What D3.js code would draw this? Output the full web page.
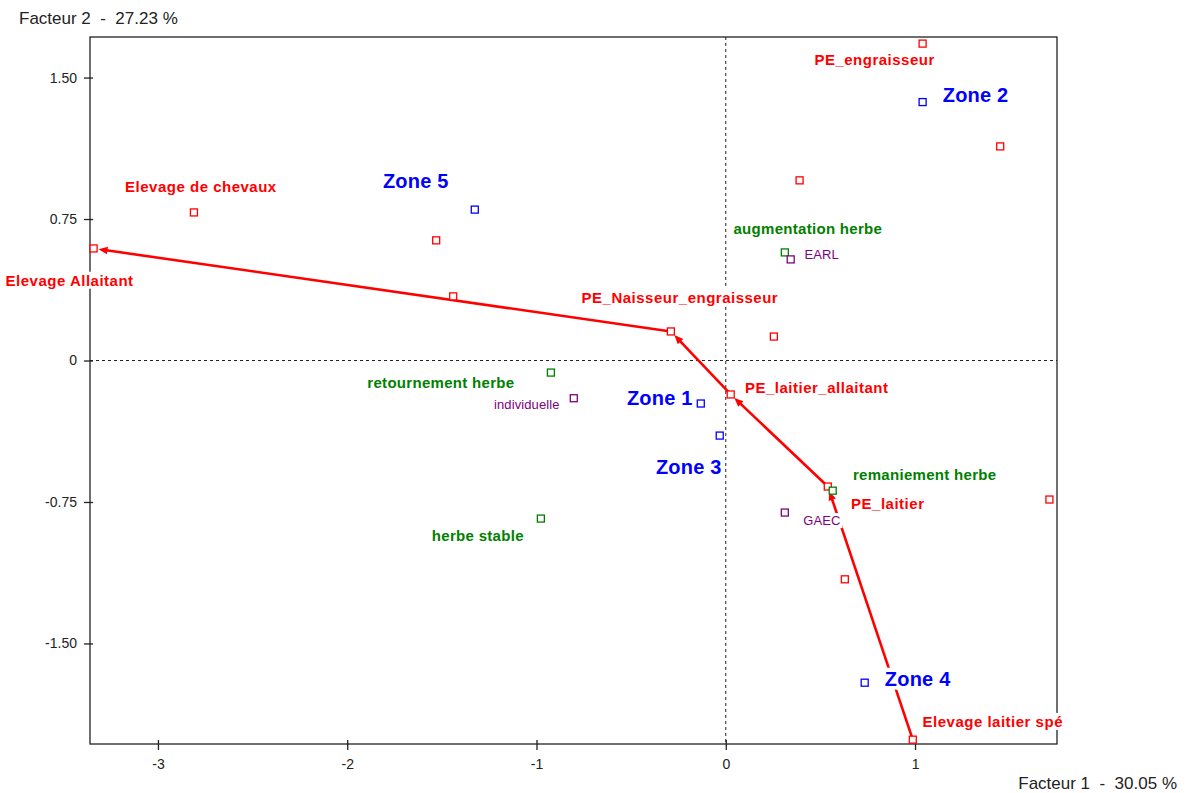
<!DOCTYPE html>
<html><head><meta charset="utf-8">
<script src="https://cdn.jsdelivr.net/npm/d3@7"></script>
<style>
html,body{margin:0;padding:0;background:#fff;}
svg{display:block;font-family:"Liberation Sans",Arial,sans-serif;}
</style></head>
<body><svg id="c" width="1187" height="793"></svg>
<script>
// ---- data ----
const typeNames = ["PE_engraisseur","","","Elevage de chevaux","Elevage Allaitant","","","PE_Naisseur_engraisseur","","PE_laitier_allaitant","PE_laitier","","","Elevage laitier spé"];
const typeF1 = [1.04, 1.45, 0.39, -2.81, -3.34, -1.53, -1.44, -0.29, 0.254, 0.026, 0.539, 1.71, 0.629, 0.988];
const typeF2 = [1.68, 1.135, 0.955, 0.785, 0.594, 0.637, 0.34, 0.154, 0.127, -0.18, -0.668, -0.737, -1.16, -2.01];

const zoneNames = ["Zone 2","Zone 5","Zone 1","Zone 3","Zone 4"];
const zoneF1 = [1.04, -1.326, -0.132, -0.032, 0.734];
const zoneF2 = [1.37, 0.80, -0.228, -0.398, -1.708];

const herbeNames = ["augmentation herbe","retournement herbe","remaniement herbe","herbe stable"];
const herbeF1 = [0.312, -0.924, 0.565, -0.977];
const herbeF2 = [0.573, -0.064, -0.69, -0.838];

const statutNames = ["EARL","individuelle","GAEC"];
const statutF1 = [0.343, -0.803, 0.312];
const statutF2 = [0.536, -0.2, -0.806];

const trajectory = ["Elevage laitier spé","PE_laitier","PE_laitier_allaitant","PE_Naisseur_engraisseur","Elevage Allaitant"];

const xTicks = [-3,-2,-1,0,1];
const xTickLabels = ["-3","-2","-1","0","1"];
const yTicks = [1.5,0.75,0,-0.75,-1.5];
const yTickLabels = ["1.50","0.75","0","-0.75","-1.50"];
const xTitle = "Facteur 1  -  30.05 %";
const yTitle = "Facteur 2  -  27.23 %";

// ---- layout (label offsets in px, relative to marker) ----
const labelOffsets = {
  "PE_engraisseur":[-48,16], "Elevage de chevaux":[7,-26], "Elevage Allaitant":[-24,32],
  "PE_Naisseur_engraisseur":[9,-34], "PE_laitier_allaitant":[86,-7], "PE_laitier":[60,17],
  "Elevage laitier spé":[80,-18],
  "Zone 2":[53,-7], "Zone 5":[-59,-29], "Zone 1":[-41,-6], "Zone 3":[-31,31], "Zone 4":[53,-4],
  "augmentation herbe":[23,-24], "retournement herbe":[-110,10], "remaniement herbe":[92,-16], "herbe stable":[-63,17],
  "EARL":[31,-5], "individuelle":[-47,6], "GAEC":[37,8]
};

const groups = [
  {names:typeNames, f1:typeF1, f2:typeF2, color:"#ff0000", size:15, weight:"bold", ls:0.5},
  {names:zoneNames, f1:zoneF1, f2:zoneF2, color:"#0000ff", size:20, weight:"bold", ls:0.2},
  {names:herbeNames, f1:herbeF1, f2:herbeF2, color:"#008000", size:15, weight:"bold", ls:0.3},
  {names:statutNames, f1:statutF1, f2:statutF2, color:"#800080", size:13, weight:"normal", ls:0.1}
];

const L0=90, R0=1057, T0=37, B0=744;
const svg = d3.select("#c");
const x = d3.scaleLinear().domain([-3.359, 1.750]).range([L0, R0]);
const y = d3.scaleLinear().domain([-2.033, 1.715]).range([B0, T0]);

// frame
svg.append("rect").attr("x",L0).attr("y",T0).attr("width",R0-L0).attr("height",B0-T0)
  .attr("fill","none").attr("stroke","#222").attr("stroke-width",1.3);

// axes
const ax = svg.append("g").attr("transform",`translate(0,${B0})`)
  .call(d3.axisBottom(x).tickValues(xTicks).tickFormat((d,i)=>xTickLabels[i]).tickSizeOuter(0).tickSize(6));
const ay = svg.append("g").attr("transform",`translate(${L0},0)`)
  .call(d3.axisLeft(y).tickValues(yTicks).tickFormat((d,i)=>yTickLabels[i]).tickSizeOuter(0).tickSize(6).tickPadding(7));
[ax,ay].forEach(g=>{
  g.select(".domain").remove();
  g.selectAll(".tick line").attr("stroke","#222").attr("stroke-width",1.3);
  g.selectAll(".tick text").attr("font-size",14).attr("fill","#222").attr("font-family","Liberation Sans, Arial, sans-serif");
});
ax.selectAll(".tick line").attr("y1",-4);
ax.selectAll(".tick text").attr("y",20).attr("dy","0.35em");
ay.selectAll(".tick line").attr("x1",3);

// zero lines
svg.append("line").attr("x1",L0).attr("x2",R0).attr("y1",y(0)).attr("y2",y(0))
  .attr("stroke","#222").attr("stroke-dasharray","3,3");
svg.append("line").attr("x1",x(0)).attr("x2",x(0)).attr("y1",T0).attr("y2",B0)
  .attr("stroke","#222").attr("stroke-dasharray","3,3");

// titles
svg.append("text").attr("x",19).attr("y",18).attr("dy","0.35em").attr("font-size",17)
  .attr("fill","#222").style("white-space","pre").text(yTitle);
svg.append("text").attr("x",1177).attr("y",783).attr("dy","0.35em").attr("font-size",17)
  .attr("text-anchor","end").attr("fill","#222").style("white-space","pre").text(xTitle);

// trajectory
const pos = {};
typeNames.forEach((n,i)=>{ if(n) pos[n]=[x(typeF1[i]), y(typeF2[i])]; });
const tg = svg.append("g");
for(let k=0;k<trajectory.length-1;k++){
  const A = pos[trajectory[k]], B = pos[trajectory[k+1]];
  const dx=B[0]-A[0], dy=B[1]-A[1], L=Math.hypot(dx,dy), ux=dx/L, uy=dy/L;
  const T=[B[0]-ux*5, B[1]-uy*5];
  const Bc=[T[0]-ux*9, T[1]-uy*9];
  tg.append("line").attr("x1",A[0]).attr("y1",A[1]).attr("x2",Bc[0]+ux).attr("y2",Bc[1]+uy)
    .attr("stroke","#ff0000").attr("stroke-width",2.6);
  const px=-uy, py=ux;
  tg.append("path").attr("d",`M${T[0]},${T[1]}L${Bc[0]+px*3.8},${Bc[1]+py*3.8}L${Bc[0]-px*3.8},${Bc[1]-py*3.8}Z`)
    .attr("fill","#ff0000");
}

// markers
const mg = svg.append("g");
groups.forEach(g=>{
  g.names.forEach((n,i)=>{
    mg.append("rect").attr("x",x(g.f1[i])-3.5).attr("y",y(g.f2[i])-3.5).attr("width",7).attr("height",7)
      .attr("fill","#fff").attr("stroke",g.color).attr("stroke-width",1.3);
  });
});

// labels
const lg = svg.append("g");
groups.forEach(g=>{
  g.names.forEach((n,i)=>{
    if(!n) return;
    const o = labelOffsets[n]||[0,0];
    const grp = lg.append("g");
    const t = grp.append("text").attr("x",x(g.f1[i])+o[0]).attr("y",y(g.f2[i])+o[1]).attr("dy","0.35em")
      .attr("text-anchor","middle").attr("font-size",g.size).attr("font-weight",g.weight)
      .attr("letter-spacing",g.ls).attr("fill",g.color).text(n);
    const bb = t.node().getBBox();
    grp.insert("rect","text").attr("x",bb.x-2).attr("y",bb.y).attr("width",bb.width+4).attr("height",bb.height)
      .attr("fill","#fff");
  });
});
</script></body></html>
